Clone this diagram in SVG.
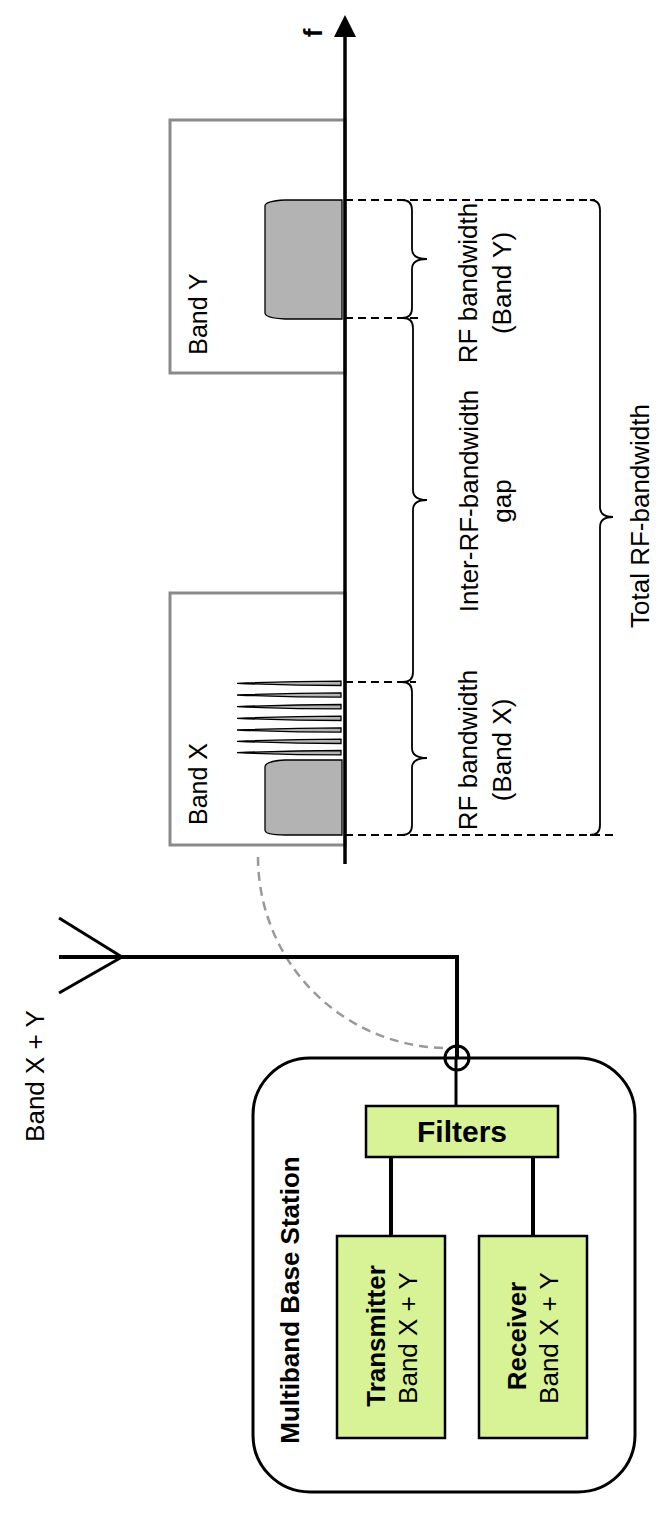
<svg xmlns="http://www.w3.org/2000/svg" width="663" height="1536" viewBox="0 0 663 1536">
<style>
text{font-family:"Liberation Sans",Arial,sans-serif;font-size:26px;fill:#000}
.b{font-weight:bold}
.band{fill:none;stroke:#8a8a8a;stroke-width:3}
.sig{fill:#b3b3b3;stroke:#000;stroke-width:1.3}
.dash{stroke:#000;stroke-width:2;stroke-dasharray:8 5;fill:none}
.brace{fill:none;stroke:#000;stroke-width:1.8}
.box{fill:#d8f296;stroke:#000;stroke-width:2.5}
.wire{stroke:#000;fill:none}
</style>
<rect width="663" height="1536" fill="#fff"/>

<g id="band-y-box">
<rect class="band" x="170" y="120" width="175" height="253"/>
<path class="sig" d="M342,200 L285,200 Q265,201 265,206 L265,313 Q265,318 285,319 L342,319 Z"/>
<text transform="translate(207,314) rotate(-90)" text-anchor="middle" style="font-size:25px">Band Y</text>
</g>

<g id="band-x-box">
<rect class="band" x="170" y="593" width="175" height="252"/>
<path class="sig" d="M342,760 L285,760 Q265,761 265,767 L265,830 Q265,835 285,835 L342,835 Z"/>
<path class="sig" d="M237,683.3 Q290,681.1 341,681.1 L341,685.5 Q290,685.5 237,683.3 Z"/>
<path class="sig" d="M237,695 Q290,692.8 341,692.8 L341,697.2 Q290,697.2 237,695 Z"/>
<path class="sig" d="M237,706.7 Q290,704.5 341,704.5 L341,708.9 Q290,708.9 237,706.7 Z"/>
<path class="sig" d="M237,718.3 Q290,716.1 341,716.1 L341,720.5 Q290,720.5 237,718.3 Z"/>
<path class="sig" d="M237,730 Q290,727.8 341,727.8 L341,732.2 Q290,732.2 237,730 Z"/>
<path class="sig" d="M237,741.3 Q290,739.1 341,739.1 L341,743.5 Q290,743.5 237,741.3 Z"/>
<path class="sig" d="M237,752.7 Q290,750.5 341,750.5 L341,754.9 Q290,754.9 237,752.7 Z"/>
<text transform="translate(207,784) rotate(-90)" text-anchor="middle" style="font-size:25px">Band X</text>
</g>

<g id="freq-axis">
<line x1="345" y1="35" x2="345" y2="864" stroke="#000" stroke-width="3.5"/>
<polygon points="345,15 334,37 356,37" fill="#000"/>
<text class="b" transform="translate(322,33) rotate(-90)" text-anchor="middle">f</text>
</g>

<g id="connectors">
<line class="dash" x1="345" y1="200" x2="595" y2="200"/>
<line class="dash" x1="345" y1="318" x2="418" y2="318"/>
<line class="dash" x1="345" y1="682" x2="416" y2="682"/>
<line class="dash" x1="345" y1="835" x2="613" y2="835"/>
<path class="brace" d="M402,200 Q412,200 412,210 L412,249 Q412,259 427,259 Q412,259 412,269 L412,308 Q412,318 402,318"/>
<path class="brace" d="M403,318 Q413,318 413,328 L413,490 Q413,500 427,500 Q413,500 413,510 L413,672 Q413,682 403,682"/>
<path class="brace" d="M402,682 Q412,682 412,692 L412,748 Q412,758 427,758 Q412,758 412,768 L412,825 Q412,835 402,835"/>
<path class="brace" d="M590,200 Q600,200 600,210 L600,507 Q600,517 613,517 Q600,517 600,527 L600,825 Q600,835 590,835"/>
<path d="M258,857 A190,191 0 0 0 448,1048" fill="none" stroke="#999" stroke-width="2.5" stroke-dasharray="9 6"/>
<line class="wire" x1="59" y1="957" x2="459" y2="957" stroke-width="4"/>
<line class="wire" x1="457" y1="955" x2="457" y2="1058" stroke-width="4"/>
<line class="wire" x1="456" y1="1058" x2="456" y2="1106" stroke-width="3"/>
<line class="wire" x1="59" y1="918" x2="122" y2="957" stroke-width="3"/>
<line class="wire" x1="59" y1="993" x2="122" y2="957" stroke-width="3"/>
<circle cx="457" cy="1058" r="12" fill="none" stroke="#000" stroke-width="3"/>
<line class="wire" x1="391" y1="1157" x2="391" y2="1236" stroke-width="4"/>
<line class="wire" x1="533" y1="1157" x2="533" y2="1236" stroke-width="4"/>
</g>

<g id="labels">
<text transform="translate(477,283) rotate(-90)" text-anchor="middle">RF bandwidth</text>
<text transform="translate(511,283) rotate(-90)" text-anchor="middle">(Band Y)</text>
<text transform="translate(478,501) rotate(-90)" text-anchor="middle">Inter-RF-bandwidth</text>
<text transform="translate(511,501) rotate(-90)" text-anchor="middle">gap</text>
<text transform="translate(477,750) rotate(-90)" text-anchor="middle">RF bandwidth</text>
<text transform="translate(511,750) rotate(-90)" text-anchor="middle">(Band X)</text>
<text transform="translate(649,516) rotate(-90)" text-anchor="middle">Total RF-bandwidth</text>
</g>

<g id="antenna">
<text transform="translate(44,1076) rotate(-90)" text-anchor="middle">Band X + Y</text>
</g>

<g id="base-station">
<rect x="253" y="1058" width="382" height="434" rx="57" ry="57" fill="none" stroke="#000" stroke-width="3"/>
<text class="b" transform="translate(299,1300) rotate(-90)" text-anchor="middle">Multiband Base Station</text>
</g>

<g id="filters">
<rect class="box" x="366" y="1106" width="192" height="51"/>
<text class="b" x="462" y="1142" text-anchor="middle" style="font-size:30px">Filters</text>
</g>

<g id="transmitter">
<rect class="box" x="337" y="1236" width="108" height="202"/>
<text class="b" transform="translate(385,1336) rotate(-90)" text-anchor="middle">Transmitter</text>
<text transform="translate(417,1338) rotate(-90)" text-anchor="middle">Band X + Y</text>
</g>

<g id="receiver">
<rect class="box" x="479" y="1236" width="108" height="202"/>
<text class="b" transform="translate(526,1336) rotate(-90)" text-anchor="middle">Receiver</text>
<text transform="translate(558,1338) rotate(-90)" text-anchor="middle">Band X + Y</text>
</g>
</svg>
